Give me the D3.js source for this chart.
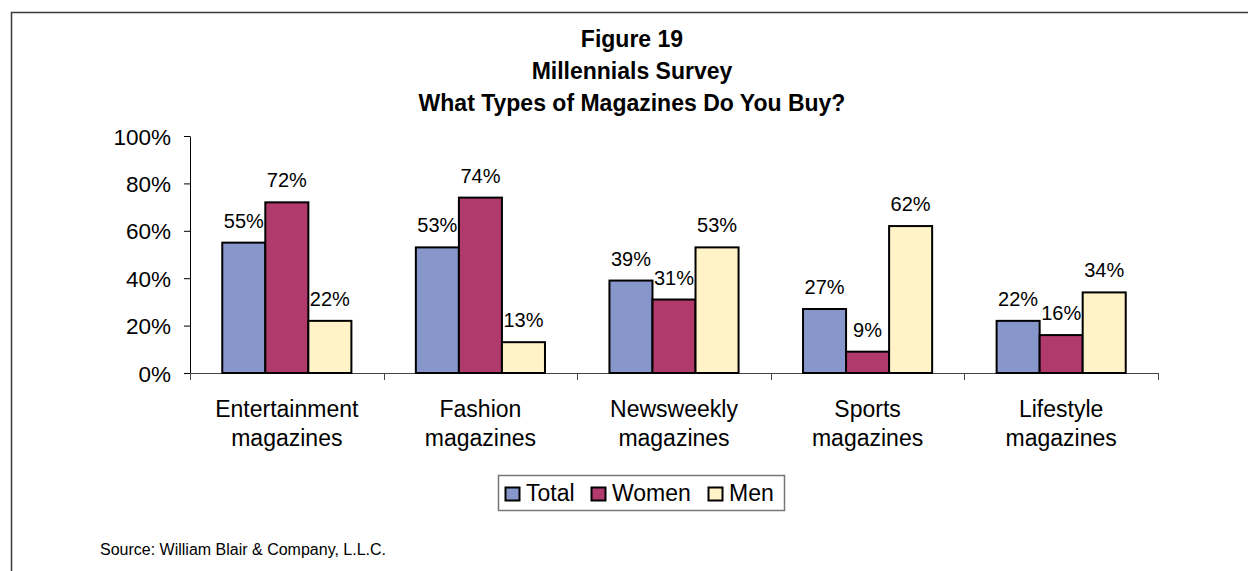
<!DOCTYPE html>
<html>
<head>
<meta charset="utf-8">
<script src="https://cdn.jsdelivr.net/npm/d3@7"></script>
<style>
  html, body { margin: 0; padding: 0; background: #fff; }
  svg { display: block; font-family: "Liberation Sans", Arial, sans-serif; }
</style>
</head>
<body>
<svg id="chart" width="1248" height="571"></svg>
<script>
// Survey results: share of respondents buying each magazine type
const categories = [
  ["Entertainment", "magazines"],
  ["Fashion", "magazines"],
  ["Newsweekly", "magazines"],
  ["Sports", "magazines"],
  ["Lifestyle", "magazines"]
];
const seriesNames = ["Total", "Women", "Men"];
const totalValues = [55, 53, 39, 27, 22];
const womenValues = [72, 74, 31, 9, 16];
const menValues   = [22, 13, 53, 62, 34];
const yTicks = [0, 20, 40, 60, 80, 100];
const titleLines = ["Figure 19", "Millennials Survey", "What Types of Magazines Do You Buy?"];
const sourceNote = "Source: William Blair & Company, L.L.C.";

const seriesValues = [totalValues, womenValues, menValues];
const colors = ["#8897cb", "#b13a6c", "#fff3c7"];

const svg = d3.select("#chart");

// outer frame (runs off the right and bottom edges)
svg.append("rect")
  .attr("x", 11.5).attr("y", 12.5)
  .attr("width", 1260).attr("height", 600)
  .attr("fill", "none").attr("stroke", "#3a3a3a").attr("stroke-width", 1.5);

// title
svg.append("g").selectAll("text").data(titleLines).join("text")
  .attr("x", 632)
  .attr("y", (d, i) => 47 + i * 32)
  .attr("text-anchor", "middle")
  .attr("font-weight", "bold")
  .attr("font-size", 23)
  .attr("fill", "#000")
  .text(d => d);

const plotLeft = 190, plotRight = 1158, plotTop = 136, plotBottom = 373;

const x0 = d3.scaleBand()
  .domain(d3.range(categories.length))
  .range([plotLeft, plotRight])
  .paddingInner(0.333)
  .paddingOuter(0.1667);

const x1 = d3.scaleBand()
  .domain(d3.range(seriesNames.length))
  .range([0, x0.bandwidth()]);

const y = d3.scaleLinear().domain([0, 100]).range([plotBottom, plotTop]);

// y axis
const yAxis = d3.axisLeft(y)
  .tickValues(yTicks)
  .tickFormat(d => d + "%")
  .tickSizeInner(6).tickSizeOuter(0).tickPadding(13);
const yg = svg.append("g").attr("transform", `translate(${plotLeft},0)`).call(yAxis);
yg.select(".domain").attr("stroke", "#000").attr("stroke-width", 1);
yg.selectAll(".tick line").attr("stroke", "#000");
yg.selectAll(".tick text")
  .attr("font-size", 22.5).attr("fill", "#000")
  .attr("font-family", "Liberation Sans, Arial, sans-serif")
  .attr("dy", "0.36em");

// x axis baseline with category boundary ticks
const boundaries = d3.range(categories.length + 1);
const xEdge = d3.scaleLinear().domain([0, categories.length]).range([plotLeft, plotRight]);
svg.append("line")
  .attr("x1", plotLeft).attr("x2", plotRight)
  .attr("y1", plotBottom + 0.5).attr("y2", plotBottom + 0.5)
  .attr("stroke", "#444").attr("stroke-width", 1);
svg.append("g").selectAll("line").data(boundaries).join("line")
  .attr("x1", d => Math.round(xEdge(d)) + 0.5).attr("x2", d => Math.round(xEdge(d)) + 0.5)
  .attr("y1", plotBottom).attr("y2", plotBottom + 7)
  .attr("stroke", "#444").attr("stroke-width", 1);

// category labels (two lines each)
const catG = svg.append("g").selectAll("text").data(categories).join("text")
  .attr("text-anchor", "middle")
  .attr("font-size", 23)
  .attr("fill", "#000");
catG.selectAll("tspan").data((d, i) => d.map(t => ({ t, i }))).join("tspan")
  .attr("x", d => x0(d.i) + x0.bandwidth() / 2)
  .attr("y", (d, j) => 417 + j * 29)
  .text(d => d.t);

// bars
const groups = svg.append("g").selectAll("g").data(categories).join("g")
  .attr("transform", (d, i) => `translate(${x0(i)},0)`);

groups.each(function (c, ci) {
  const g = d3.select(this);
  const rows = seriesValues.map((vals, si) => ({ si, v: vals[ci] }));
  g.selectAll("rect").data(rows).join("rect")
    .attr("x", d => x1(d.si))
    .attr("y", d => y(d.v))
    .attr("width", x1.bandwidth())
    .attr("height", d => y(0) - y(d.v))
    .attr("fill", d => colors[d.si])
    .attr("stroke", "#000")
    .attr("stroke-width", 2);
  g.selectAll("text").data(rows).join("text")
    .attr("x", d => x1(d.si) + x1.bandwidth() / 2)
    .attr("y", d => y(d.v) - 15)
    .attr("text-anchor", "middle")
    .attr("font-size", 20)
    .attr("fill", "#000")
    .text(d => d.v + "%");
});

// legend
const legend = svg.append("g");
legend.append("rect")
  .attr("x", 498.5).attr("y", 475.5).attr("width", 286).attr("height", 35)
  .attr("fill", "#fff").attr("stroke", "#777").attr("stroke-width", 1.5);
const legendX = [505, 591, 708];
const items = legend.selectAll("g").data(seriesNames).join("g")
  .attr("transform", (d, i) => `translate(${legendX[i]},0)`);
items.append("rect")
  .attr("x", 0.5).attr("y", 487.5).attr("width", 14).attr("height", 13)
  .attr("fill", (d, i) => colors[i]).attr("stroke", "#000").attr("stroke-width", 2);
items.append("text")
  .attr("x", 21).attr("y", 501)
  .attr("font-size", 23).attr("fill", "#000")
  .text(d => d);

// source note
svg.append("text")
  .attr("x", 100).attr("y", 555)
  .attr("font-size", 16).attr("fill", "#000")
  .text(sourceNote);
</script>
</body>
</html>
